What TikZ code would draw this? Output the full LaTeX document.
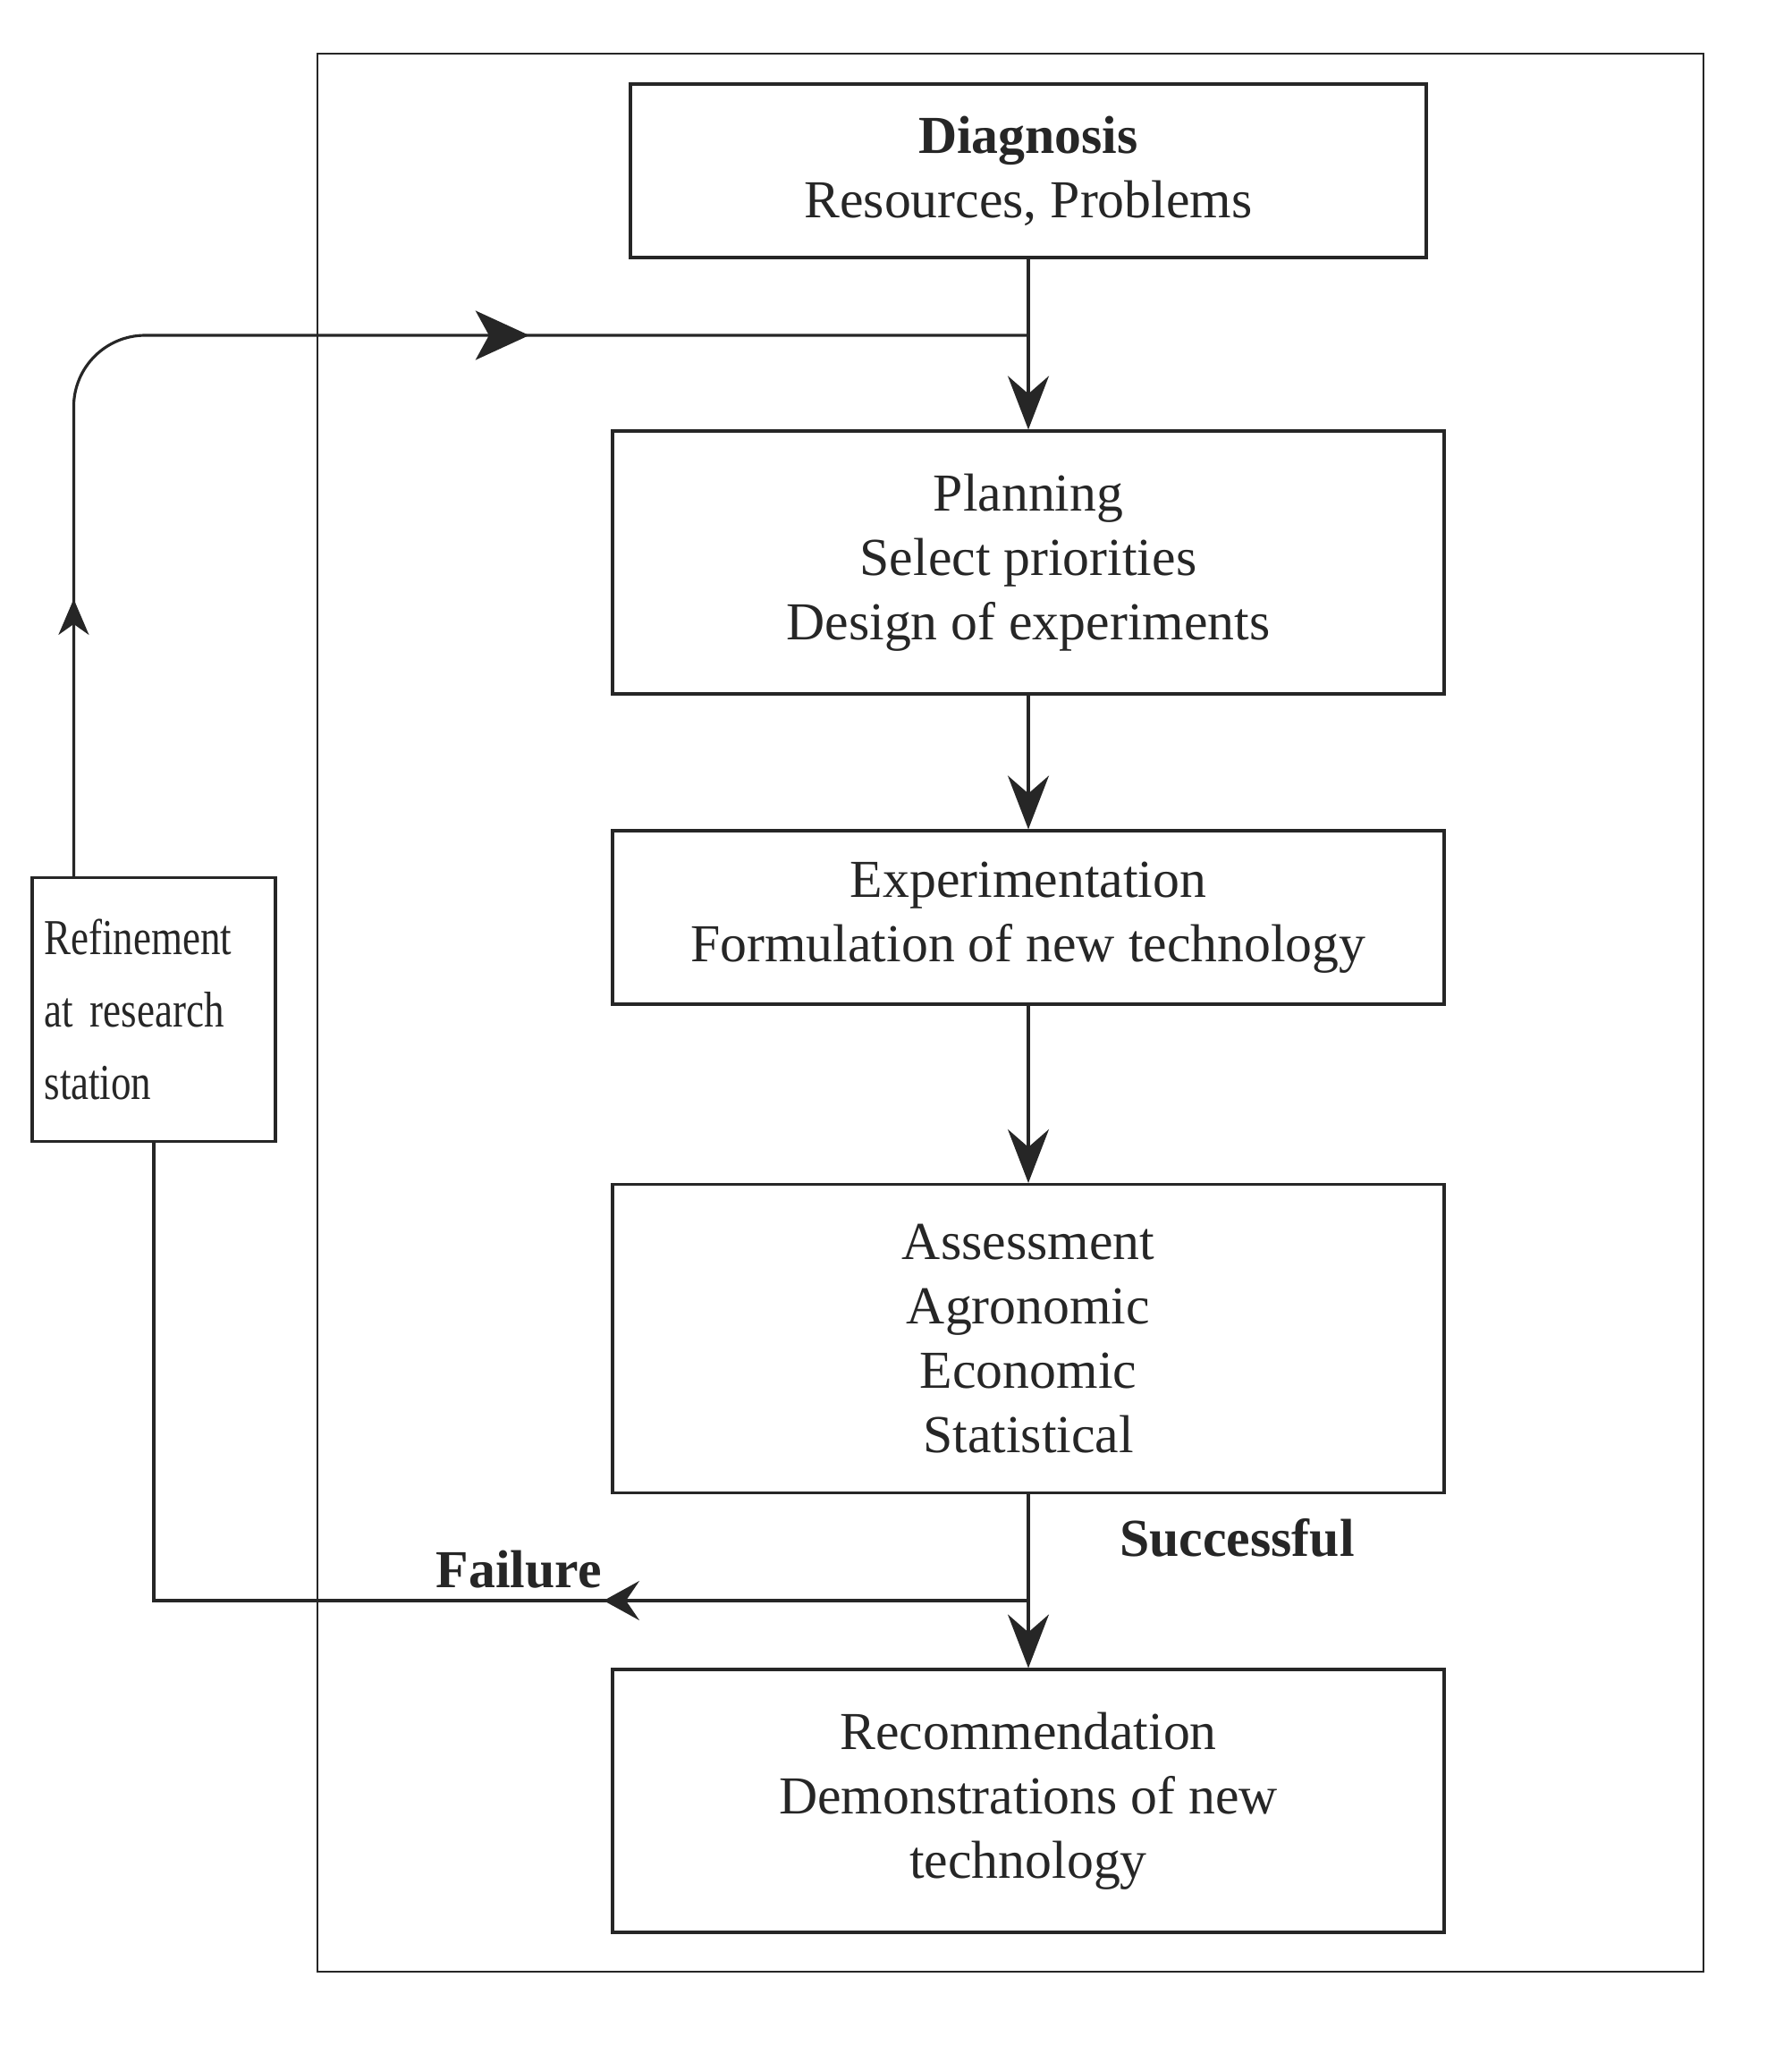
\documentclass[tikz,border=0pt]{standalone}
\usepackage{fontspec}
\setmainfont{Liberation Serif}
\newfontfamily\narrowserif[FakeStretch=0.8]{Liberation Serif}
\usetikzlibrary{arrows.meta,decorations.markings}

\begin{document}
\begin{tikzpicture}[color=black!85,
		every node/.style={font=\fontsize{17}{20.5}\selectfont},
		stage/.style={draw, line width=0.9pt, align=center, minimum width=9.3cm},
		flow/.style={line width=0.9pt, -{Stealth[length=6mm, width=4.6mm, inset=2mm]}},
		back/.style={line width=0.9pt, postaction={decorate}},
		label/.style={font=\fontsize{17}{20}\selectfont\bfseries}
	]
			\useasboundingbox (0,0) rectangle (20.04,-23.06);
			\draw[line width=0.8pt] (3.55,-0.6) rectangle (19.05,-22.05);

			\node[stage, minimum width=8.9cm, minimum height=1.94cm] (diag) at (11.5,-1.91) {\textbf{Diagnosis}\\Resources, Problems};
			\node[stage, minimum height=2.94cm] (plan) at (11.5,-6.29) {Planning\\Select priorities\\Design of experiments};
			\node[stage, minimum height=1.94cm] (expt) at (11.5,-10.26) {Experimentation\\Formulation of new technology};
			\node[stage, minimum height=3.45cm] (assess) at (11.5,-14.97) {Assessment\\Agronomic\\Economic\\Statistical};
			\node[stage, minimum height=2.94cm] (recom) at (11.5,-20.14) {Recommendation\\Demonstrations of new\\technology};

			\node[draw, line width=0.9pt, align=left, text width=2.45cm, minimum width=2.72cm, minimum height=2.95cm,
				font=\narrowserif\fontsize{16}{23}\selectfont] (refine) at (1.72,-11.29) {Refinement\\at research\\station};

			\draw[flow] (diag) -- (plan);
			\draw[flow] (plan) -- (expt);
			\draw[flow] (expt) -- (assess);
			\draw[flow] (assess) -- (recom);

			\coordinate (join) at (11.5,-3.75);
			\coordinate (split) at (11.5,-17.9);
			\coordinate (refout) at ([xshift=4.8mm]refine.north west);

			% failure goes back to the station, then on to planning
			\draw[back, decoration={markings, mark=at position 4.75cm with {\arrow{Stealth[length=4mm, width=4.4mm, inset=1.5mm]}}}]
				(split) -- (split -| refine.south) -- (refine.south);
			\draw[back, rounded corners=8mm, decoration={markings,
				mark=at position 3.1cm with {\arrow{Stealth[length=4mm, width=3.4mm, inset=1.2mm]}},
				mark=at position 10.8cm with {\arrow{Stealth[length=6mm, width=5.5mm, inset=1.5mm]}}}]
				(refout) -- (refout |- join) -- (join);

			\node[label, anchor=west] (succ) at (12.4,-17.2) {Successful};
			\node[label, anchor=base east] (fail) at (6.85,-17.75) {Failure};
\end{tikzpicture}
\end{document}
